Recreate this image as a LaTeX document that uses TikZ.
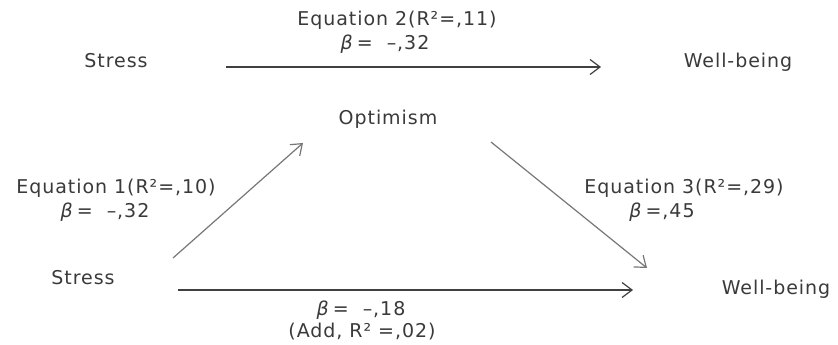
\documentclass[tikz,border=0pt]{standalone}
\usepackage{fontspec}
\setmainfont[LetterSpace=5]{DejaVu Sans}
\usetikzlibrary{arrows.meta}
\definecolor{txt}{HTML}{3A3A3A}
\definecolor{darkln}{HTML}{404040}
\definecolor{lightln}{HTML}{777777}
\tikzset{
  lbl/.style={text=txt, inner sep=0pt, font=\fontsize{19}{22}\selectfont, align=center},
  arr/.style={-{Straight Barb[length=10pt,width=15pt]}, line width=1.2pt},
}
\newcommand{\bet}{\textit{β}}
\begin{document}
\begin{tikzpicture}[x=1pt,y=-1pt]
\useasboundingbox[fill=white] (0,0) rectangle (838,345);
% top equation
\node[lbl] (s1) at (116,61) {Stress};
\node[lbl] (w1) at (738,62) {Well-being};
\coordinate (a1s) at (226,67);
\coordinate (a1e) at (601,67);
\draw[arr, darkln] (a1s) -- (a1e);
\node[lbl] (e2) at (397,20) {Equation 2(R²=,11)};
\node[lbl] (b2) at (385,44) {\bet\,= \ –,32};
% lower triangle
\node[lbl] (op) at (388,119) {Optimism};
\node[lbl] (s2) at (83,278) {Stress};
\node[lbl] (w2) at (776,289) {Well-being};
\coordinate (a2s) at (173,258);
\coordinate (a2e) at (303,143);
\coordinate (a3s) at (491,142);
\coordinate (a3e) at (647,268);
\coordinate (a4s) at (178,290);
\coordinate (a4e) at (633,290);
\draw[arr, lightln] (a2s) -- (a2e);
\draw[arr, lightln] (a3s) -- (a3e);
\draw[arr, darkln] (a4s) -- (a4e);
\node[lbl] (e1) at (116,188) {Equation 1(R²=,10)};
\node[lbl] (b1) at (105,212) {\bet\,= \ –,32};
\node[lbl] (e3) at (684,188) {Equation 3(R²=,29)};
\node[lbl] (b3) at (662,212) {\bet\,=,45};
\node[lbl] (b4) at (361,310) {\bet\,= \ –,18};
\node[lbl] (add) at (362,332) {(Add, R² =,02)};
\end{tikzpicture}
\end{document}
